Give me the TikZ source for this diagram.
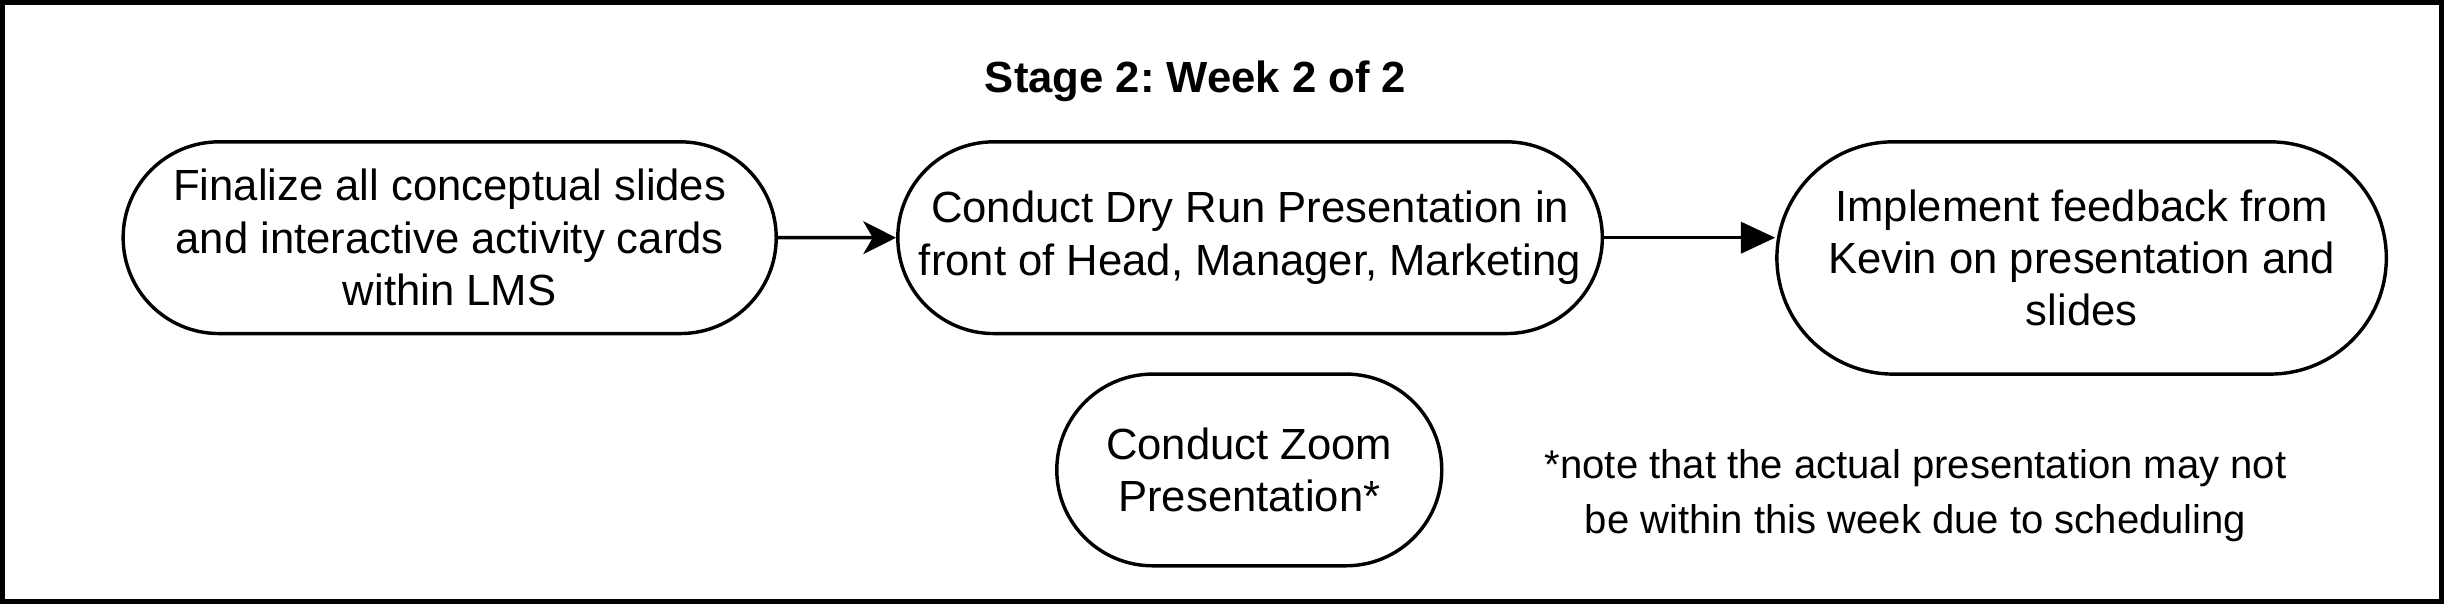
\documentclass[tikz,border=0pt]{standalone}
\usepackage{fontspec}
\setmainfont{Liberation Sans}
\usetikzlibrary{arrows.meta,shapes.misc,positioning}
\frenchspacing

\begin{document}
\begin{tikzpicture}[x=1pt,y=-1pt,
	stage/.style={rounded rectangle, draw=black, line width=2.2pt, inner sep=0pt, align=center, font=\fontsize{28}{33.6}\selectfont},
	link/.style={line width=2.2pt}]
				% Frame
				\useasboundingbox (0,0) rectangle (1568,387.5);
				\draw[line width=3pt] (1.5,1.5) rectangle (1566.5,386);
				
				% Title
				\node[font=\fontsize{28}{33.6}\selectfont\bfseries] (title) at (767,52) {Stage 2: Week 2 of 2};
				
				% Steps of the week
				\node[stage, minimum width=419pt, minimum height=123pt] (final) at (288.5,152.5) {Finalize all conceptual slides\\and interactive activity cards\\within LMS};
				\node[stage, minimum width=452pt, minimum height=123pt] (dryrun) at (802,152.5) {Conduct Dry Run Presentation in\\front of Head, Manager, Marketing};
				\node[stage, minimum width=391pt, minimum height=149pt] (feedback) at (1335.5,165.5) {Implement feedback from\\Kevin on presentation and\\slides};
				\node[stage, minimum width=247pt, minimum height=123pt] (zoom) at (801.5,301.5) {Conduct Zoom\\Presentation*};
				
				% Note on scheduling
				\node[align=center, font=\fontsize{25.7}{35}\selectfont] (note) at (1229,318) {*note that the actual presentation may not\\be within this week due to scheduling};
				
				% Arrows between steps
				\draw[link, -{Stealth[length=21pt,width=21pt,inset=6pt]}] (final) -- (dryrun);
				\draw[link, -{Triangle[length=22pt,width=20pt]}] (dryrun.east) -- (dryrun.east -| feedback.west);
				
			\end{tikzpicture}
\end{document}
